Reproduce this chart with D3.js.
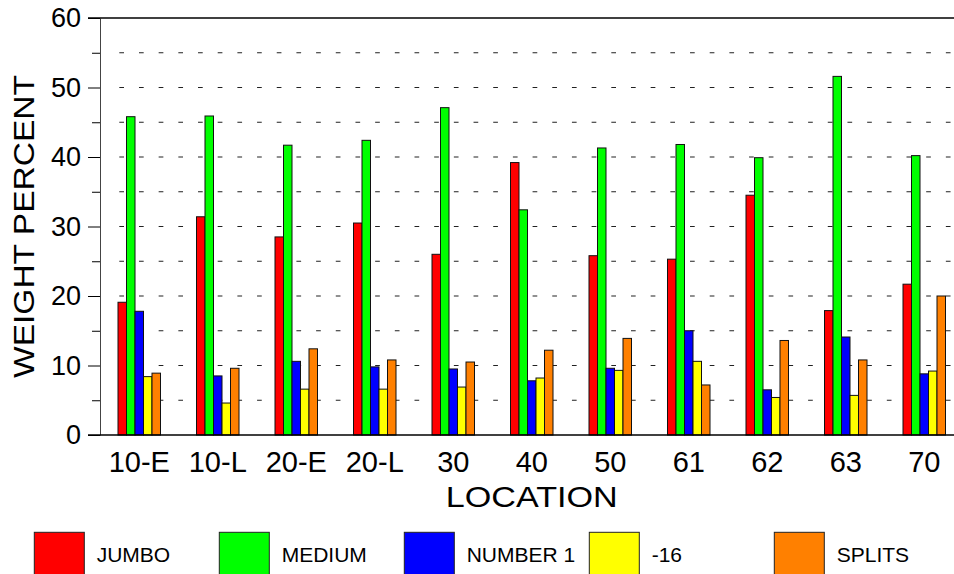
<!DOCTYPE html>
<html>
<head>
<meta charset="utf-8">
<script src="https://cdn.jsdelivr.net/npm/d3@7"></script>
<style>
  body { margin: 0; background: #fff; }
  svg { display: block; font-family: "Liberation Sans", Arial, sans-serif; }
</style>
</head>
<body>
<script>
// chart data
var locations = ['10-E', '10-L', '20-E', '20-L', '30', '40', '50', '61', '62', '63', '70'];
var seriesNames = ['JUMBO', 'MEDIUM', 'NUMBER 1', '-16', 'SPLITS'];
var seriesColors = ['#ff0000', '#00ff00', '#0000ff', '#ffff00', '#ff8000'];
var jumbo   = [19.1, 31.4, 28.5, 30.5, 26.0, 39.2, 25.8, 25.3, 34.5, 17.9, 21.7];
var medium  = [45.8, 45.9, 41.7, 42.4, 47.1, 32.4, 41.3, 41.8, 39.9, 51.6, 40.2];
var number1 = [17.8, 8.5, 10.6, 9.8, 9.5, 7.8, 9.6, 15.0, 6.5, 14.1, 8.8];
var minus16 = [8.4, 4.6, 6.6, 6.6, 6.9, 8.2, 9.3, 10.6, 5.4, 5.7, 9.2];
var splits  = [8.9, 9.6, 12.4, 10.8, 10.5, 12.2, 13.9, 7.2, 13.6, 10.8, 20.0];
var yTicks = [0, 10, 20, 30, 40, 50, 60];
var yMinor = [5, 15, 25, 35, 45, 55];

var allSeries = [jumbo, medium, number1, minus16, splits];

var width = 954, height = 574;
var plotLeft = 100, plotTop = 18, plotBottom = 435;

var svg = d3.select('body').append('svg')
    .attr('width', width)
    .attr('height', height);

var x0 = d3.scaleBand().domain(locations).range([plotLeft, plotLeft + 11 * 78.5]);
var x1 = d3.scaleBand().domain(seriesNames).range([0, 42.5]);
var groupOffset = (x0.bandwidth() - 42.5) / 2;
var y = d3.scaleLinear().domain([0, 60]).range([plotBottom, plotTop]);

// dashed grid
svg.append('g').selectAll('line')
    .data(yMinor.concat(yTicks.slice(1, 6)))
    .join('line')
    .attr('x1', 119.3).attr('x2', width)
    .attr('y1', function(d){ return y(d); })
    .attr('y2', function(d){ return y(d); })
    .attr('stroke', '#222')
    .attr('stroke-width', 1.2)
    .attr('stroke-dasharray', '4.7,14.98');

// bars
var rows = [];
locations.forEach(function(loc, i){
    seriesNames.forEach(function(s, j){
        rows.push({loc: loc, s: s, v: allSeries[j][i], c: seriesColors[j]});
    });
});
svg.append('g').selectAll('rect')
    .data(rows)
    .join('rect')
    .attr('x', function(d){ return x0(d.loc) + groupOffset + x1(d.s); })
    .attr('width', x1.bandwidth())
    .attr('y', function(d){ return y(d.v); })
    .attr('height', function(d){ return y(0) - y(d.v); })
    .attr('fill', function(d){ return d.c; })
    .attr('stroke', '#111')
    .attr('stroke-width', 1);

// y axis
var yAxis = svg.append('g')
    .attr('transform', 'translate(' + plotLeft + ',0)')
    .call(d3.axisLeft(y).tickValues(yTicks).tickSize(12).tickPadding(7).tickSizeOuter(0));
yAxis.select('.domain').attr('stroke', '#444');
yAxis.selectAll('text').style('font-size', '27px').attr('fill', '#000');
svg.append('g')
    .attr('transform', 'translate(' + plotLeft + ',0)')
    .call(d3.axisLeft(y).tickValues(yMinor).tickSize(8).tickFormat(''))
    .select('.domain').remove();

// top and bottom lines
svg.append('line').attr('x1', 88).attr('x2', width).attr('y1', y(60)).attr('y2', y(60))
    .attr('stroke', '#000').attr('stroke-width', 1.5);
svg.append('line').attr('x1', 88).attr('x2', width).attr('y1', y(0)).attr('y2', y(0))
    .attr('stroke', '#000').attr('stroke-width', 1.5);

// x axis labels
var xAxis = svg.append('g')
    .attr('transform', 'translate(0,' + plotBottom + ')')
    .call(d3.axisBottom(x0).tickSize(0).tickPadding(16.5));
xAxis.select('.domain').remove();
xAxis.selectAll('text').style('font-size', '29px').attr('fill', '#000');

// axis titles
svg.append('text')
    .attr('x', (plotLeft + 963.5) / 2).attr('y', 507)
    .attr('text-anchor', 'middle')
    .attr('textLength', 172).attr('lengthAdjust', 'spacingAndGlyphs')
    .style('font-size', '30px')
    .text('LOCATION');
svg.append('text')
    .attr('transform', 'translate(34,' + (plotTop + plotBottom) / 2 + ') rotate(-90)')
    .attr('text-anchor', 'middle')
    .attr('textLength', 303).attr('lengthAdjust', 'spacingAndGlyphs')
    .style('font-size', '30px')
    .text('WEIGHT PERCENT');

// legend
var legend = svg.append('g').selectAll('g')
    .data(seriesNames)
    .join('g')
    .attr('transform', function(d, i){ return 'translate(' + (34.3 + i * 185) + ',532.3)'; });
legend.append('rect')
    .attr('width', 50).attr('height', 50)
    .attr('fill', function(d, i){ return seriesColors[i]; })
    .attr('stroke', '#222').attr('stroke-width', 1);
legend.append('text')
    .attr('x', 62.4).attr('y', 29.7)
    .style('font-size', '21px')
    .text(function(d){ return d; });
</script>
</body>
</html>
